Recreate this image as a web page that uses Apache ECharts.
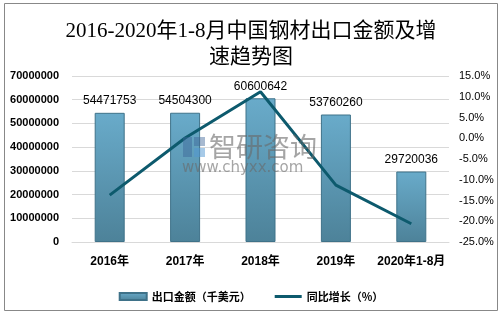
<!DOCTYPE html>
<html>
<head>
<meta charset="utf-8">
<script src="https://cdn.jsdelivr.net/npm/echarts@6/dist/echarts.min.js"></script>
<style>
html,body{margin:0;padding:0;background:#fff;}
#c{width:502px;height:315px;}
</style>
</head>
<body>
<div id="c"></div>
<script>
var categories = ['2016年', '2017年', '2018年', '2019年', '2020年1-8月'];
var exportValues = [54471753, 54504300, 60600642, 53760260, 29720036];
var growthRates = [-13.7, 0.06, 11.2, -11.3, -20.6];
var leftTicks = [0, 10000000, 20000000, 30000000, 40000000, 50000000, 60000000, 70000000];
var rightTicks = [-25, -20, -15, -10, -5, 0, 5, 10, 15];

var chart = echarts.init(document.getElementById('c'), null, {renderer: 'canvas'});
var barGrad = new echarts.graphic.LinearGradient(0, 0, 0, 1, [
  {offset: 0, color: '#69abca'},
  {offset: 1, color: '#4d8299'}
]);
var sans = '"Liberation Sans", "Noto Sans CJK SC", sans-serif';
var wmGray = 'rgba(105,105,105,0.6)';
var option = {
  backgroundColor: '#ffffff',
  animation: false,
  title: {
    text: '2016-2020年1-8月中国钢材出口金额及增\n速趋势图',
    left: 'center',
    top: 13,
    textStyle: {
      fontFamily: '"Liberation Serif", "Noto Sans CJK SC", serif',
      fontSize: 21,
      fontWeight: 'normal',
      color: '#000',
      lineHeight: 26
    }
  },
  legend: {
    top: 286,
    left: 'center',
    itemGap: 24,
    itemWidth: 27,
    itemHeight: 7,
    textStyle: {fontSize: 11, fontWeight: 'bold', color: '#000', fontFamily: '"Noto Sans CJK SC", sans-serif'},
    data: [
      {name: '出口金额（千美元）', icon: 'rect'},
      {name: '同比增长（%）', icon: 'path://M0,0H27V3H0Z'}
    ]
  },
  grid: {left: 72, right: 53, top: 76, bottom: 73, containLabel: false},
  xAxis: {
    type: 'category',
    data: categories,
    axisLine: {lineStyle: {color: '#d9d9d9'}},
    axisTick: {show: false},
    axisLabel: {interval: 0, fontSize: 12, fontWeight: 'bold', color: '#000', margin: 14, fontFamily: sans}
  },
  yAxis: [
    {
      type: 'value',
      min: leftTicks[0],
      max: leftTicks[leftTicks.length - 1],
      interval: leftTicks[1] - leftTicks[0],
      axisLine: {show: false},
      axisTick: {show: false},
      splitLine: {lineStyle: {color: '#d9d9d9'}},
      axisLabel: {
        fontSize: 11, fontWeight: 'bold', color: '#000', margin: 13, fontFamily: sans,
        formatter: function (v) { return String(v); }
      }
    },
    {
      type: 'value',
      min: rightTicks[0],
      max: rightTicks[rightTicks.length - 1],
      interval: rightTicks[1] - rightTicks[0],
      axisLine: {show: false},
      axisTick: {show: false},
      splitLine: {show: false},
      axisLabel: {
        fontSize: 11, color: '#000', margin: 10, fontFamily: sans,
        formatter: function (v) { return v.toFixed(1) + '%'; }
      }
    }
  ],
  series: [
    {
      name: '出口金额（千美元）',
      type: 'bar',
      data: exportValues,
      barWidth: 30,
      itemStyle: {color: barGrad, borderColor: '#3f7289', borderWidth: 1},
      label: {
        show: true, position: 'top', distance: 6,
        fontSize: 12, color: '#000', fontFamily: sans
      },
      z: 2
    },
    {
      name: '同比增长（%）',
      type: 'line',
      yAxisIndex: 1,
      data: growthRates,
      symbol: 'none',
      lineStyle: {color: '#0d5a6d', width: 3},
      itemStyle: {color: '#0d5a6d'},
      z: 5
    }
  ],
  graphic: [
    {
      type: 'rect',
      shape: {x: 4.5, y: 3.5, width: 493, height: 307},
      style: {fill: 'none', stroke: '#888', lineWidth: 1},
      silent: true,
      z: 100
    },
    {type: 'rect', z: 100, silent: true, shape: {x: 183, y: 137, width: 9, height: 20}, style: {fill: 'rgba(60,100,150,0.45)'}},
    {type: 'rect', z: 100, silent: true, shape: {x: 194, y: 137, width: 11, height: 9}, style: {fill: 'rgba(60,100,150,0.45)'}},
    {type: 'rect', z: 100, silent: true, shape: {x: 194, y: 148, width: 11, height: 9}, style: {fill: 'rgba(80,150,210,0.5)'}},
    {type: 'text', z: 100, silent: true, x: 209, y: 133, style: {text: '智研咨询', fontSize: 27, fill: wmGray, fontFamily: '"Noto Sans CJK SC", sans-serif'}},
    {type: 'text', z: 100, silent: true, x: 182, y: 161, style: {text: 'www.chyxx.com', fontSize: 15, fill: wmGray, fontFamily: '"DejaVu Sans", sans-serif'}}
  ]
};
chart.setOption(option);
</script>
</body>
</html>
